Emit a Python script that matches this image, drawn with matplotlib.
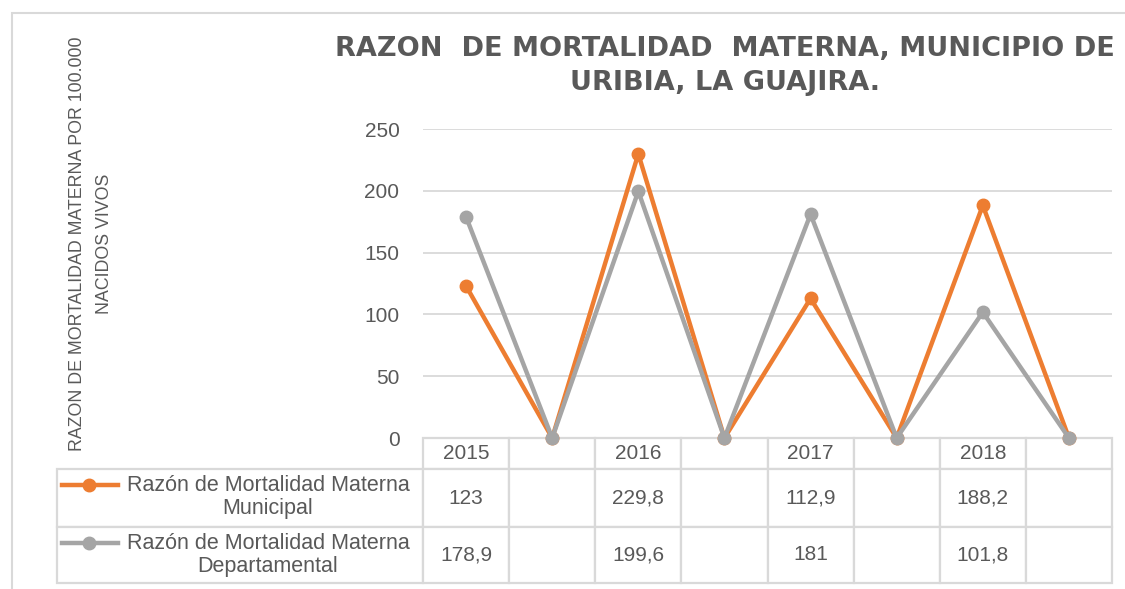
import matplotlib
matplotlib.use('Agg')
import matplotlib.pyplot as plt
from matplotlib.patches import Rectangle
from matplotlib.lines import Line2D

# data (blank categories are plotted as zero, shown blank in the table)
categories = ['2015', '', '2016', '', '2017', '', '2018', '']
municipal = [123, None, 229.8, None, 112.9, None, 188.2, None]
departamental = [178.9, None, 199.6, None, 181, None, 101.8, None]
municipal_txt = ['123', '', '229,8', '', '112,9', '', '188,2', '']
departamental_txt = ['178,9', '', '199,6', '', '181', '', '101,8', '']
series_names = ['Razón de Mortalidad Materna\nMunicipal',
                'Razón de Mortalidad Materna\nDepartamental']
yticks = [0, 50, 100, 150, 200, 250]

ORANGE = '#ED7D31'
GRAY = '#A5A5A5'
TXT = '#595959'
GRID = '#D9D9D9'
FONT = ['Liberation Sans', 'DejaVu Sans']

W, H = 1125, 589
fig = plt.figure(figsize=(W / 100, H / 100), dpi=100)

# outer chart border
fig.patches.append(Rectangle((12 / W, -0.01), 1.2, (H - 13) / H + 0.01,
                             transform=fig.transFigure, fill=False,
                             edgecolor=GRID, linewidth=1.5))

x0, x1, ytop, ybot = 423, 1112, 129, 438
ax = fig.add_axes([x0 / W, (H - ybot) / H, (x1 - x0) / W, (ybot - ytop) / H])

xs = list(range(len(categories)))
mun = [v if v is not None else 0 for v in municipal]
dep = [v if v is not None else 0 for v in departamental]
ax.plot(xs, mun, color=ORANGE, lw=3.2, marker='o', ms=9, zorder=3, clip_on=False)
ax.plot(xs, dep, color=GRAY, lw=3.2, marker='o', ms=9, zorder=3, clip_on=False)

ax.set_xlim(-0.5, len(categories) - 0.5)
ax.set_ylim(0, 250)
ax.set_yticks(yticks)
ax.set_yticklabels([str(t) for t in yticks], fontsize=15, color=TXT, family=FONT)
ax.tick_params(axis='y', length=0, pad=17)
ax.set_xticks([])
ax.grid(axis='y', color=GRID, lw=1.3)
ax.set_axisbelow(True)
for s in ax.spines.values():
    s.set_visible(False)

# data table (first column holds the series names)
ph = ybot - ytop
tab_h = 583 - ybot
rows = [[''] + municipal_txt, [''] + departamental_txt]
tbl = ax.table(cellText=rows, colLabels=[''] + categories, cellLoc='center',
               bbox=[(57 - x0) / (x1 - x0), -tab_h / ph,
                     (x1 - 57) / (x1 - x0), tab_h / ph])
tbl.auto_set_font_size(False)
heights = {0: 31, 1: 58, 2: 56}
for (r, c), cell in tbl.get_celld().items():
    cell.set_edgecolor(GRID)
    cell.set_linewidth(1.6)
    cell.set_height(heights[r])
    cell.set_width(366 if c == 0 else (x1 - x0) / len(categories))
    cell.get_text().set_fontsize(15)
    cell.get_text().set_color(TXT)
    cell.get_text().set_family(FONT)
    if r == 0 and c == 0:
        cell.set_edgecolor('none')
        cell.set_facecolor('none')

# legend keys and series names in the table
row_mid = [497, 555]
for name, col, ym in zip(series_names, [ORANGE, GRAY], row_mid):
    yk = (H - (ym - 12)) / H
    fig.add_artist(Line2D([62 / W, 118 / W], [yk, yk], color=col, lw=3.2,
                          transform=fig.transFigure))
    fig.add_artist(Line2D([89 / W], [yk], color=col, marker='o', ms=9,
                          transform=fig.transFigure))
    fig.text(268 / W, (H - ym) / H, name, ha='center', va='center',
             fontsize=15.5, color=TXT, family=FONT, linespacing=1.15)

# title
fig.text(725 / W, (H - 66) / H,
         'RAZON  DE MORTALIDAD  MATERNA, MUNICIPIO DE\nURIBIA, LA GUAJIRA.',
         ha='center', va='center', fontsize=19.5, fontweight='bold', color=TXT,
         family='DejaVu Sans', linespacing=1.35)

# y axis title
fig.text(91 / W, (H - 244) / H,
         'RAZON DE MORTALIDAD MATERNA POR 100.000\nNACIDOS VIVOS',
         ha='center', va='center', rotation=90, fontsize=12.8, color=TXT,
         family=FONT, linespacing=1.75)

fig.savefig('out.png', dpi=100)
